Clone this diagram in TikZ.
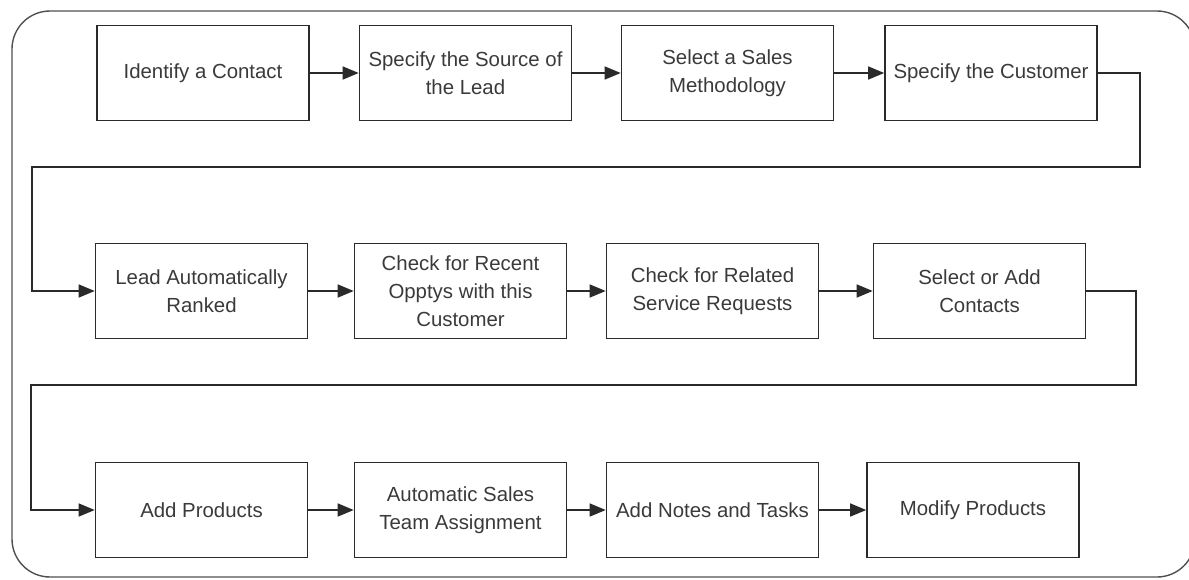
\documentclass[tikz,border=0pt]{standalone}
\usepackage{fontspec}
\setmainfont{Liberation Sans}
\usetikzlibrary{arrows.meta}
\definecolor{linec}{HTML}{2A2A2A}
\definecolor{textc}{HTML}{3A3A3A}
\definecolor{framec}{HTML}{505050}
\tikzset{
  stepbox/.style={draw=linec, line width=1.6pt, minimum width=212pt, minimum height=95pt,
    inner sep=0pt, align=center, text=textc, font=\fontsize{20.4}{28}\selectfont},
  flow/.style={draw=linec, line width=1.5pt, -{Triangle[length=16pt,width=13pt]}}
}
\begin{document}
\begin{tikzpicture}[x=1pt,y=-1pt]
\useasboundingbox (0,0) rectangle (1189,579);
\clip (0,0) rectangle (1189,579);
\draw[framec, line width=1.4pt, rounded corners=38pt] (12,11) rectangle (1195,577);
% row 1
\node[stepbox] (a1) at (203,73) {Identify a Contact};
\node[stepbox] (a2) at (465.5,73) {Specify the Source of\\the Lead};
\node[stepbox] (a3) at (727.5,73) {Select a Sales\\Methodology};
\node[stepbox] (a4) at (991,73) {Specify the Customer};
% row 2
\node[stepbox] (b1) at (201.5,291) {Lead Automatically\\Ranked};
\node[stepbox] (b2) at (460.5,291) {Check for Recent\\Opptys with this\\Customer};
\node[stepbox] (b3) at (712.5,291) {Check for Related\\Service Requests};
\node[stepbox] (b4) at (979.5,291) {Select or Add\\Contacts};
% row 3
\node[stepbox] (c1) at (201.5,510) {Add Products};
\node[stepbox] (c2) at (460.5,510) {Automatic Sales\\Team Assignment};
\node[stepbox] (c3) at (712.5,510) {Add Notes and Tasks};
\node[stepbox] (c4) at (973,510) {Modify Products};
% connectors
\draw[flow] (a1) -- (a2);
\draw[flow] (a2) -- (a3);
\draw[flow] (a3) -- (a4);
\draw[flow] (a4.east) -- (1140,73) -- (1140,167) -- (32,167) -- (32,291) -- (b1.west);
\draw[flow] (b1) -- (b2);
\draw[flow] (b2) -- (b3);
\draw[flow] (b3) -- (b4);
\draw[flow] (b4.east) -- (1136,291) -- (1136,385) -- (31,385) -- (31,510) -- (c1.west);
\draw[flow] (c1) -- (c2);
\draw[flow] (c2) -- (c3);
\draw[flow] (c3) -- (c4);
\end{tikzpicture}
\end{document}
